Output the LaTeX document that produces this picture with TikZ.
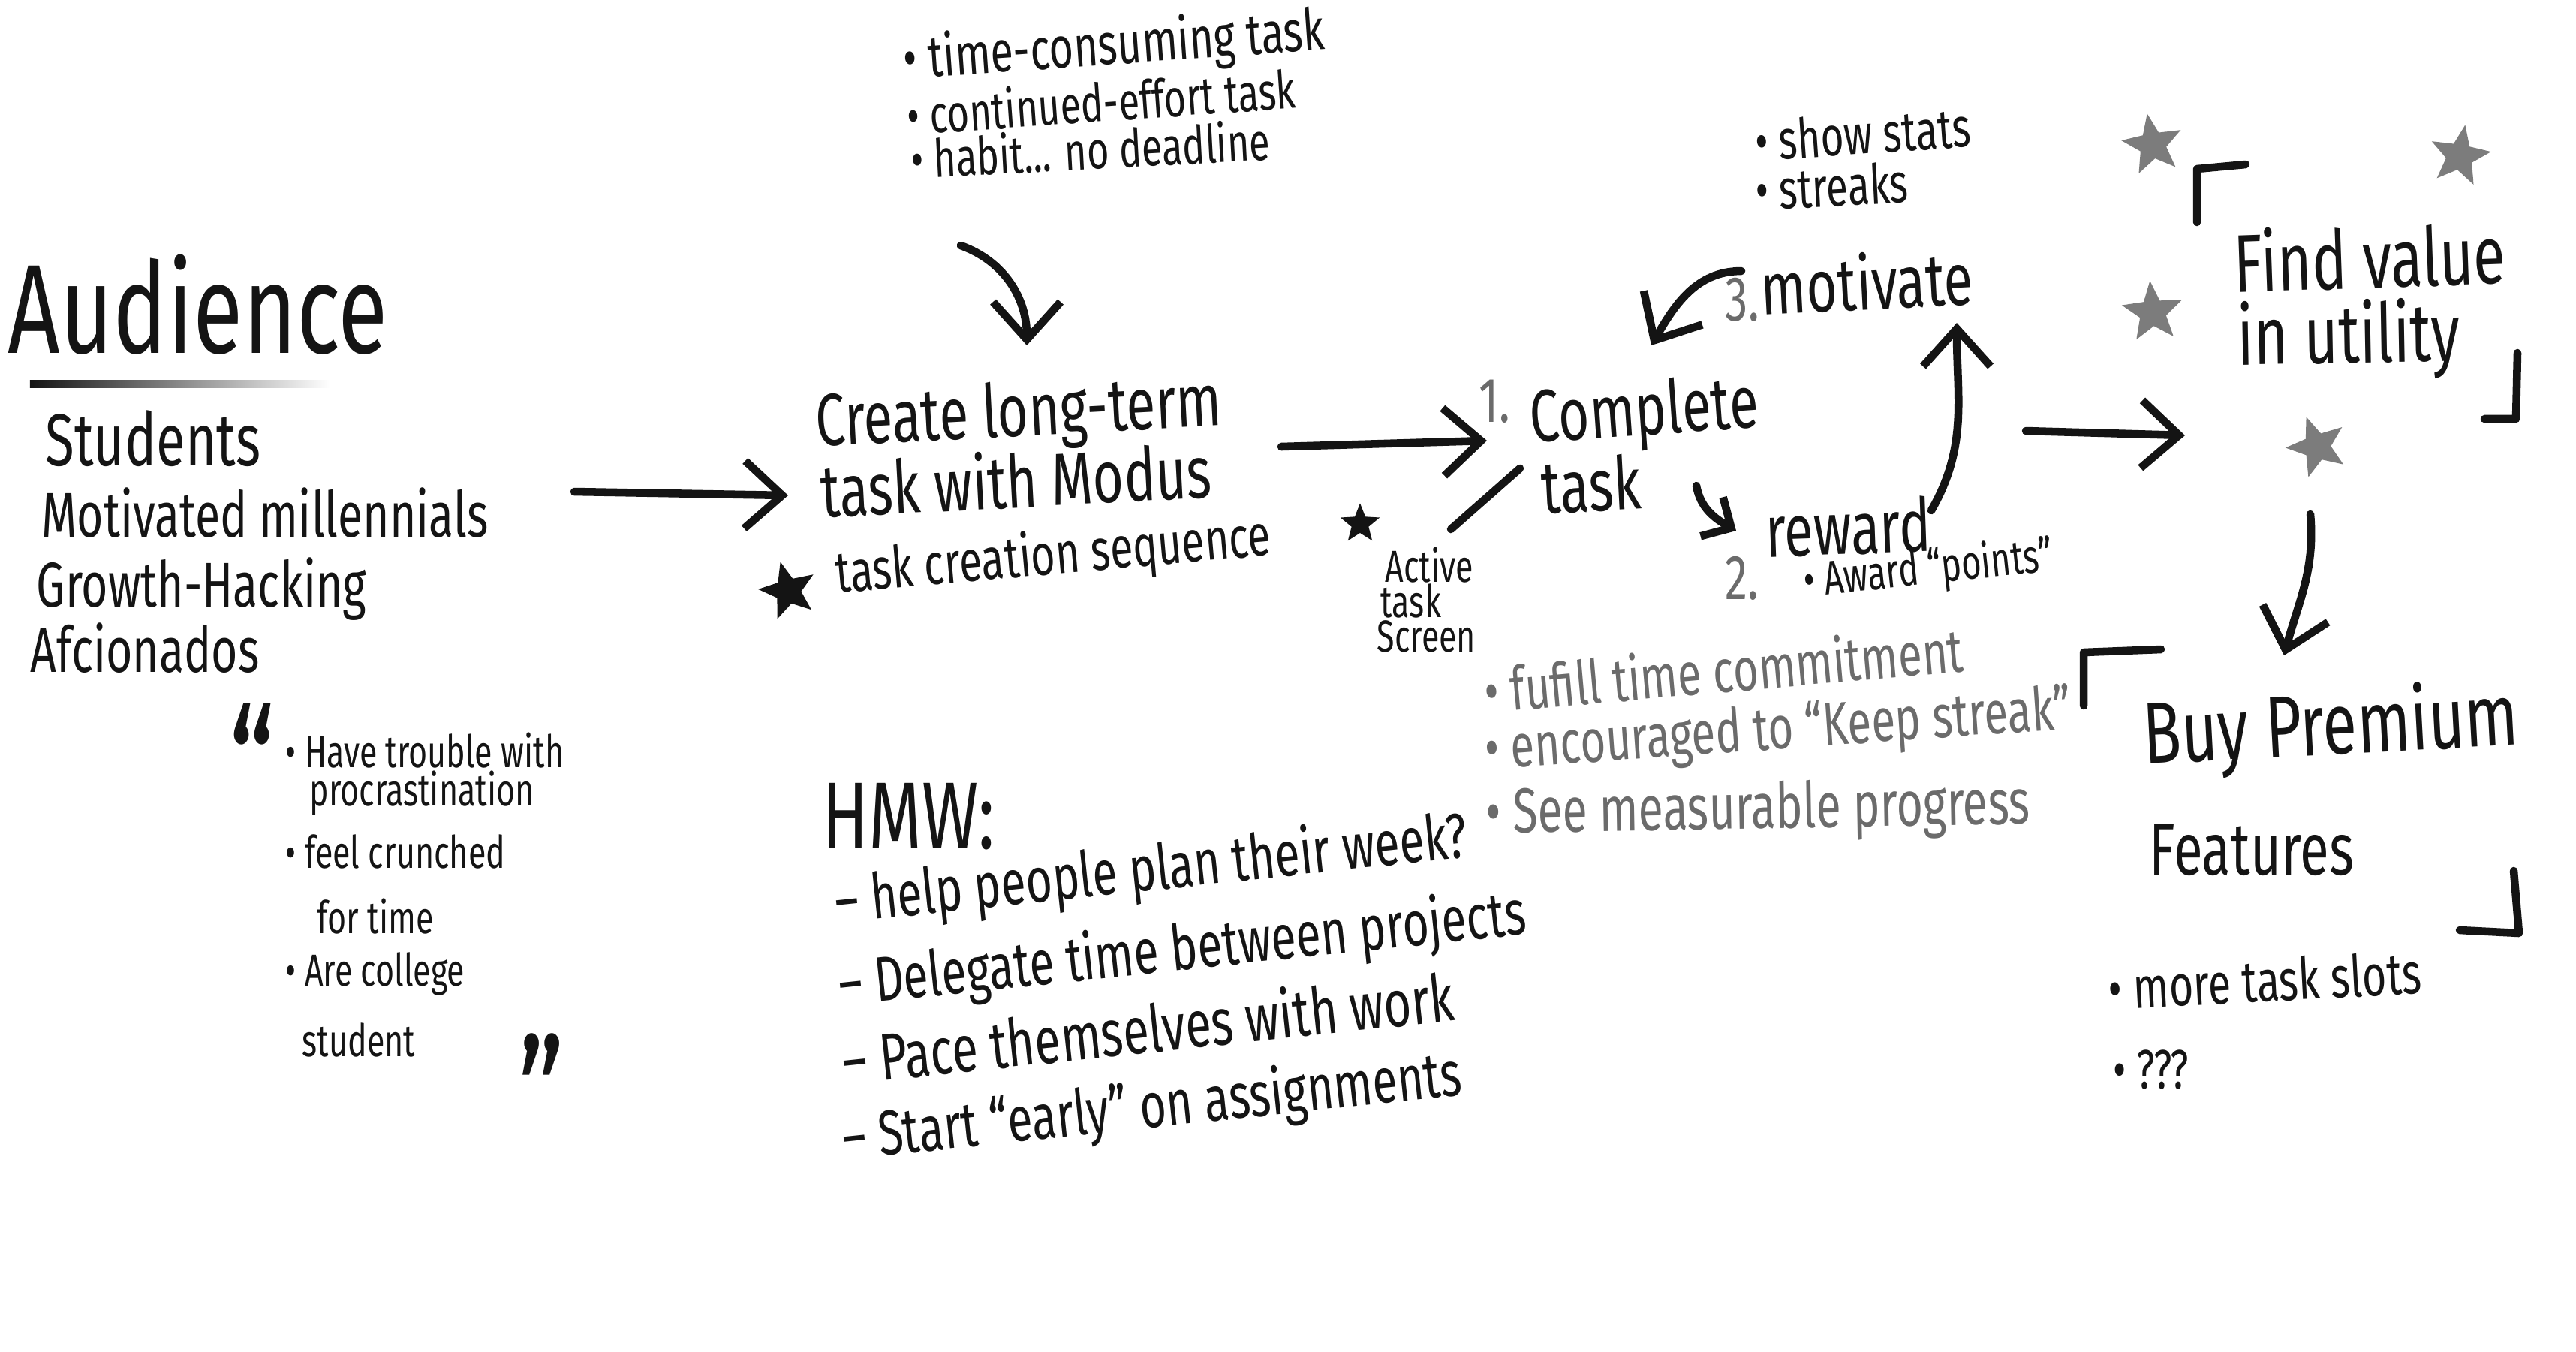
\documentclass[tikz,border=0pt]{standalone}
\usepackage{fontspec}
\setmainfont{Fira Sans}[FakeStretch=0.72]
\usepackage{tikz}
\usetikzlibrary{arrows.meta,shapes.geometric,positioning,calc}
\definecolor{ink}{HTML}{141414}
\definecolor{pen}{HTML}{6B6B6B}
\definecolor{starg}{HTML}{7C7C7C}
\tikzset{
  hand/.style={inner sep=0pt,text=ink,anchor=base west},
  hand_title/.style={hand,font=\fontsize{48}{52}\selectfont},
  hand_head/.style={hand,font=\fontsize{28}{32}\selectfont},
  hand_big/.style={hand,font=\fontsize{33}{37}\selectfont},
  hand_item/.style={hand,font=\fontsize{24}{28}\selectfont},
  hand_hmw/.style={hand,font=\fontsize{24}{28}\selectfont},
  hand_note/.style={hand,font=\fontsize{21}{25}\selectfont},
  hand_top/.style={hand,font=\fontsize{20}{23}\selectfont},
  hand_small/.style={hand,font=\fontsize{17}{20}\selectfont},
  hand_quote/.style={hand,font=\fontsize{60}{60}\selectfont},
  grey_note/.style={hand,text=pen,font=\fontsize{23}{27}\selectfont},
  grey_num/.style={hand,text=pen,font=\fontsize{24}{28}\selectfont},
  black_star/.style={star,star points=5,star point ratio=2.3,fill=ink,inner sep=0pt,minimum size=8mm},
  grey_star/.style={star,star points=5,star point ratio=2.3,fill=starg,draw=starg,line width=1.5pt,inner sep=0pt,minimum size=7mm},
  arr/.style={-{Straight Barb[length=5mm,width=9mm]},draw=ink,line width=3pt,line cap=round,line join=round},
  arr_s/.style={-{Straight Barb[length=3mm,width=6mm]},draw=ink,line width=3pt,line cap=round,line join=round},
  pen_line/.style={draw=ink,line width=3pt,line cap=round,line join=round},
}
\begin{document}
\begin{tikzpicture}
  \fill[white] (0,0) rectangle (34.32,-18);
  \useasboundingbox (0,0) rectangle (34.32,-18);

  \node[hand_title] (aud) at (0.1,-4.7) {Audience};
  \shade[left color=ink,right color=white] (0.4,-5.06) rectangle (4.4,-5.16);
  \node[hand_item,font=\fontsize{28}{32}\selectfont] (stud) at (0.6,-6.2) {Students};
  \node[hand_item] (mill) at (0.55,-7.15) {Motivated millennials};
  \node[hand_item] (grow) at (0.48,-8.08) {Growth-Hacking};
  \node[hand_item] (afic) at (0.4,-8.95) {Afcionados};

  \node[hand_quote] (qopen) at (3.05,-10.95) {“};
  \node[hand_small] (q1) at (3.8,-10.22) {• Have trouble with};
  \node[hand_small] (q2) at (4.12,-10.73) {procrastination};
  \node[hand_small] (q3) at (3.8,-11.56) {• feel crunched};
  \node[hand_small] (q4) at (4.22,-12.43) {for time};
  \node[hand_small] (q5) at (3.8,-13.13) {• Are college};
  \node[hand_small] (q6) at (4.02,-14.07) {student};
  \node[hand_quote] (qclose) at (6.9,-15.35) {”};

  \node[hand_top,font=\fontsize{22}{25}\selectfont,rotate=4] (tb1) at (12.05,-1.05) {• time-consuming task};
  \node[hand_top,rotate=4] (tb2) at (12.1,-1.8) {• continued-effort task};
  \node[hand_top,rotate=3] (tb3) at (12.15,-2.38) {• habit... no deadline};

  \node[hand_head,rotate=3] (cr1) at (10.88,-5.95) {Create long-term};
  \node[hand_head,rotate=3] (cr2) at (10.95,-6.9) {task with Modus};
  \node[black_star,rotate=15] (sta) at (10.5,-7.87) {};
  \node[hand_note,font=\fontsize{22}{26}\selectfont,rotate=5] (tcs) at (11.15,-7.9) {task creation sequence};
  \node[black_star,minimum size=5.5mm] (stb) at (18.12,-6.98) {};

  \node[grey_num] (n1) at (19.7,-5.62) {1.};
  \node[hand_head,rotate=4] (comp1) at (20.4,-5.9) {Complete};
  \node[hand_head,rotate=3] (comp2) at (20.55,-6.85) {task};
  \node[hand_small] (act1) at (18.45,-7.75) {Active};
  \node[hand_small] (act2) at (18.39,-8.22) {task};
  \node[hand_small] (act3) at (18.34,-8.68) {Screen};

  \node[hand_head,rotate=2] (rew) at (23.53,-7.42) {reward};
  \node[grey_num] (n2) at (22.98,-7.98) {2.};
  \node[hand_small,font=\fontsize{18}{21}\selectfont,rotate=6] (award) at (24.05,-7.95) {• Award “points”};
  \node[grey_num] (n3) at (22.98,-4.27) {3.};
  \node[hand_head,rotate=3] (mot) at (23.47,-4.2) {motivate};
  \node[hand_note,rotate=4] (ss1) at (23.4,-2.15) {• show stats};
  \node[hand_note,rotate=3] (ss2) at (23.4,-2.8) {• streaks};

  \node[grey_note,rotate=5] (g1) at (19.8,-9.5) {• fufill time commitment};
  \node[grey_note,rotate=4] (g2) at (19.8,-10.25) {• encouraged to “Keep streak”};
  \node[grey_note,font=\fontsize{24}{28}\selectfont,rotate=1] (g3) at (19.8,-11.1) {• See measurable progress};

  \node[grey_star,rotate=10] (st1) at (28.68,-1.93) {};
  \node[grey_star,rotate=-10] (st2) at (32.77,-2.08) {};
  \node[grey_star,rotate=5] (st3) at (28.68,-4.16) {};
  \node[grey_star,rotate=20] (st4) at (30.87,-5.95) {};
  \node[hand_head,font=\fontsize{31}{35}\selectfont,rotate=2] (fnd1) at (29.77,-3.9) {Find value};
  \node[hand_head,font=\fontsize{31}{35}\selectfont,rotate=1] (fnd2) at (29.81,-4.86) {in utility};

  \node[hand_big,rotate=3] (buy1) at (28.57,-10.18) {Buy Premium};
  \node[hand_head] (buy2) at (28.63,-11.65) {Features};
  \node[hand_note,font=\fontsize{22}{26}\selectfont,rotate=3] (more) at (28.1,-13.45) {• more task slots};
  \node[hand_note] (qqq) at (28.15,-14.5) {• ???};

  \node[hand_head,font=\fontsize{36}{40}\selectfont] (hmw) at (10.95,-11.3) {HMW:};
  \node[hand_hmw,rotate=6] (h1) at (11.15,-12.3) {– help people plan their week?};
  \node[hand_hmw,rotate=6] (h2) at (11.2,-13.4) {– Delegate time between projects};
  \node[hand_hmw,font=\fontsize{25}{29}\selectfont,rotate=6] (h3) at (11.25,-14.45) {– Pace themselves with work};
  \node[hand_hmw,rotate=6] (h4) at (11.25,-15.45) {– Start “early” on assignments};

  \draw[arr] ([shift={(7.1,0.6)}]mill.base west) -- ([shift={(-0.45,0.3)}]cr2.base west);
  \draw[arr] ([shift={(0.65,-0.89)}]tb3.base west) to[out=-20,in=90] ([shift={(2.8,1.35)}]cr1.base west);
  \draw[arr] ([shift={(6.19,0)}]cr1.base west) -- ([shift={(-0.59,0.03)}]comp1.base west);
  \draw[pen_line] ([shift={(-0.3,0.61)}]comp2.base west) -- ([shift={(0.88,0.7)}]act1.base west);
  \draw[arr_s] ([shift={(2.05,0.38)}]comp2.base west) to[out=-80,in=150] ([shift={(-0.4,0.35)}]rew.base west);
  \draw[arr] ([shift={(2.2,0.62)}]rew.base west) to[out=60,in=-90] ([shift={(2.6,-0.1)}]mot.base west);
  \draw[arr] ([shift={(-0.27,0.59)}]mot.base west) to[out=180,in=60] ([shift={(1.6,1.3)}]comp1.base west);
  \draw[arr] ([shift={(3.46,1.68)}]rew.base west) -- ([shift={(-0.7,-0.94)}]fnd2.base west);
  \draw[arr] ([shift={(0.97,-1.99)}]fnd2.base west) to[out=-85,in=75] ([shift={(1.86,1.45)}]buy1.base west);

  \draw[pen_line] (29.27,-2.96) -- (29.27,-2.25) -- (29.92,-2.19);
  \draw[pen_line] (33.54,-4.7) -- (33.52,-5.58) -- (33.1,-5.58);
  \draw[pen_line] (28.79,-8.65) -- (27.76,-8.69) -- (27.76,-9.4);
  \draw[pen_line] (33.49,-11.6) -- (33.56,-12.43) -- (32.77,-12.39);
\end{tikzpicture}
\end{document}
